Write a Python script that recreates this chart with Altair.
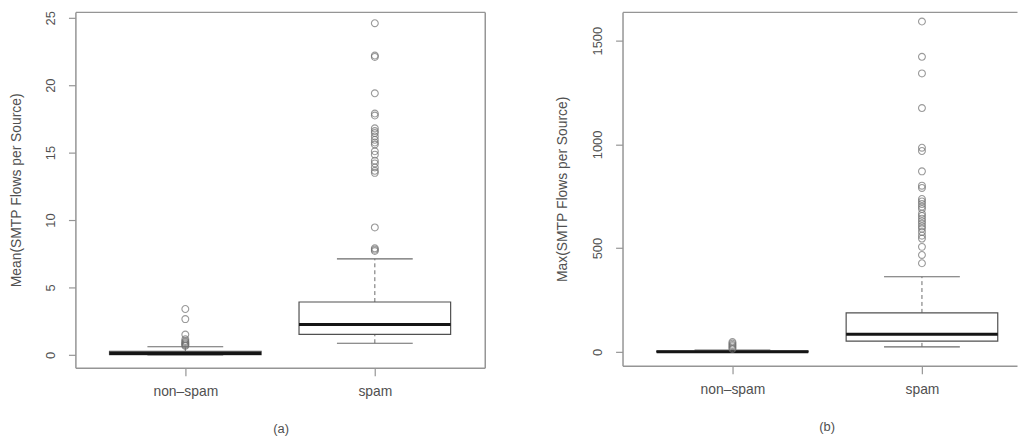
import altair as alt
import pandas as pd

# ---------------- data ----------------
cats = ["non–spam", "spam"]
cat_pos = [1, 2]

# Panel (a): Mean(SMTP Flows per Source)
mean_q1 = [0.02, 1.52]
mean_med = [0.10, 2.25]
mean_q3 = [0.25, 3.92]
mean_lo = [0.0, 0.86]
mean_hi = [0.60, 7.12]
mean_out_nonspam = [3.40, 2.65, 1.50, 1.15, 1.02, 0.94, 0.86, 0.79, 0.72, 0.66]
mean_out_spam = [7.70, 7.80, 7.90, 9.45, 13.5, 13.65, 13.9, 14.2, 14.4, 14.85,
                 15.1, 15.6, 15.75, 15.95, 16.2, 16.45, 16.6, 16.8, 17.75, 17.9,
                 19.4, 22.1, 22.2, 24.6]
mean_ticks = [0, 5, 10, 15, 20, 25]

# Panel (b): Max(SMTP Flows per Source)
max_q1 = [0.0, 52]
max_med = [1.0, 85]
max_q3 = [4.0, 188]
max_lo = [0.0, 24]
max_hi = [9.0, 362]
max_out_nonspam = [14, 20, 27, 33, 40, 47]
max_out_spam = [427, 467, 506, 546, 560, 578, 594, 605, 618, 630, 642, 655, 666,
                689, 700, 713, 725, 737, 790, 801, 870, 968, 984, 1175, 1342,
                1422, 1592]
max_ticks = [0, 500, 1000, 1500]

FRAME = "#959595"
TEXT = "#505050"
LINE = "#6a6a6a"

label_expr = " : ".join(
    f"datum.value == {p} ? '{c}'" for p, c in zip(cat_pos[:-1], cats[:-1])
) + f" : '{cats[-1]}'"


def panel(q1, med, q3, lo, hi, out_ns, out_sp, ydom, yticks, ytitle, xtitle,
          width, height, xmax, title_x, title_off, right_border):
    stats = pd.DataFrame({"cat": cats, "pos": cat_pos, "q1": q1, "med": med,
                          "q3": q3, "lo": lo, "hi": hi})
    outl = pd.DataFrame({"pos": [cat_pos[0]] * len(out_ns) + [cat_pos[1]] * len(out_sp),
                         "val": out_ns + out_sp})
    xs = alt.Scale(domain=[0.42, xmax], nice=False, zero=False)
    ys = alt.Scale(domain=ydom, nice=False, zero=False)

    x_axis = alt.Axis(values=cat_pos, labelExpr=label_expr, title=xtitle,
                      tickSize=8, labelPadding=9, labelFontSize=14,
                      titleFontSize=13, titleFontWeight="normal",
                      titleX=title_x, titleY=61, titleBaseline="middle",
                      domain=True, grid=False)
    y_axis = alt.Axis(values=yticks, format="d", title=ytitle, tickSize=7,
                      labelAngle=270, labelAlign="center",
                      labelBaseline="middle", labelPadding=18,
                      labelFontSize=13, labelOverlap=False,
                      titleAngle=270, titleBaseline="middle",
                      titleX=-title_off, titleY=height / 2,
                      titleFontSize=14, titleFontWeight="normal",
                      domain=True, grid=False)
    top_axis = alt.Axis(orient="top", labels=False, ticks=False, domain=True,
                        title=None, grid=False)
    right_axis = alt.Axis(orient="right", labels=False, ticks=False, domain=True,
                          title=None, grid=False)

    base = alt.Chart(stats).transform_calculate(
        bl="datum.pos - 0.4", br="datum.pos + 0.4",
        cl="datum.pos - 0.2", cr="datum.pos + 0.2")

    whisk_hi = base.mark_rule(strokeDash=[4, 3], color=LINE, strokeWidth=1).encode(
        x=alt.X("pos:Q", scale=xs, axis=x_axis),
        y=alt.Y("q3:Q", scale=ys, axis=y_axis), y2="hi:Q")
    whisk_lo = base.mark_rule(strokeDash=[4, 3], color=LINE, strokeWidth=1).encode(
        x=alt.X("pos:Q", axis=None), y=alt.Y("lo:Q", axis=None), y2="q1:Q")
    cap_hi = base.mark_rule(color=LINE, strokeWidth=1.2).encode(
        x=alt.X("cl:Q", axis=None), x2="cr:Q", y=alt.Y("hi:Q", axis=None))
    cap_lo = base.mark_rule(color=LINE, strokeWidth=1.2).encode(
        x=alt.X("cl:Q", axis=None), x2="cr:Q", y=alt.Y("lo:Q", axis=None))
    box = base.mark_rect(fill="white", stroke="#505050", strokeWidth=1.2).encode(
        x=alt.X("bl:Q", axis=None), x2="br:Q",
        y=alt.Y("q1:Q", axis=None), y2="q3:Q")
    median = base.mark_rule(color="#151515", strokeWidth=3).encode(
        x=alt.X("bl:Q", axis=None), x2="br:Q", y=alt.Y("med:Q", axis=None))
    pts = alt.Chart(outl).mark_point(shape="circle", filled=False, size=48,
                                     color="#707070", strokeWidth=1.1).encode(
        x=alt.X("pos:Q", scale=xs, axis=top_axis),
        y=alt.Y("val:Q", scale=ys, axis=right_axis if right_border else None))

    return alt.layer(whisk_hi, whisk_lo, cap_hi, cap_lo, box, median, pts).resolve_axis(
        x="independent", y="independent").properties(width=width, height=height)


pa = panel(mean_q1, mean_med, mean_q3, mean_lo, mean_hi, mean_out_nonspam,
           mean_out_spam, [-0.956, 25.44], mean_ticks,
           "Mean(SMTP Flows per Source)", "(a)", 413, 359, 2.58, 207, 59, True)
pb = panel(max_q1, max_med, max_q3, max_lo, max_hi, max_out_nonspam,
           max_out_spam, [-66.9, 1638.6], max_ticks,
           "Max(SMTP Flows per Source)", "(b)", 398, 357, 2.5016, 206, 61, False)

chart = alt.hconcat(pa, pb, spacing=69).properties(
    padding={"left": 1, "top": 0, "right": 0, "bottom": 0}
).configure_view(stroke="transparent").configure_axis(
    domainColor=FRAME, domainWidth=1.5, tickColor=FRAME, tickWidth=1.2,
    labelColor=TEXT, titleColor=TEXT, labelFont="Liberation Sans",
    titleFont="Liberation Sans")

chart.save("out.html", embed_options={"renderer": "svg", "actions": False})
